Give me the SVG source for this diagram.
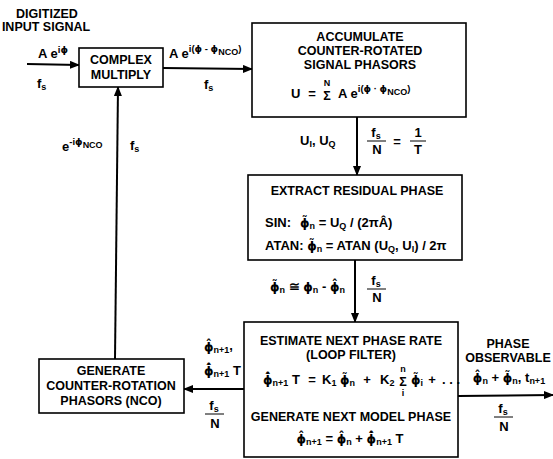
<svg xmlns="http://www.w3.org/2000/svg" width="553" height="459" viewBox="0 0 553 459">
<defs>
<marker id="ah" markerWidth="10" markerHeight="8" refX="9" refY="4" orient="auto" markerUnits="userSpaceOnUse">
<path d="M0,0 L10,4 L0,8 Z" fill="#000"/>
</marker>
</defs>
<style>
text{font-family:"Liberation Sans",Arial,sans-serif;font-weight:bold;font-size:12.5px;fill:#000}
.m{text-anchor:middle}
.f{font-size:13px}
.g{font-family:"DejaVu Sans","Liberation Sans",sans-serif;font-size:12px}
.s{font-size:9px}
.sup{font-size:9.5px}
.box{fill:#fff;stroke:#000;stroke-width:1.6}
.ln{fill:none;stroke:#000;stroke-width:2}
.fr{stroke:#000;stroke-width:1}
</style>
<rect width="553" height="459" fill="#fff"/>

<g id="connectors">
<line class="ln" x1="27" y1="64" x2="79" y2="65" marker-end="url(#ah)"/>
<line class="ln" x1="163" y1="68" x2="252" y2="69" marker-end="url(#ah)"/>
<line class="ln" x1="357" y1="117" x2="357" y2="175" marker-end="url(#ah)"/>
<line class="ln" x1="355" y1="260" x2="355" y2="322" marker-end="url(#ah)"/>
<line class="ln" x1="244" y1="389" x2="184" y2="389" marker-end="url(#ah)"/>
<line class="ln" x1="458" y1="396" x2="553" y2="395" marker-end="url(#ah)"/>
<line class="ln" x1="115" y1="359" x2="118" y2="87" marker-end="url(#ah)"/>
</g>

<g id="labels">
<text x="47" y="18" class="m">DIGITIZED</text>
<text x="46" y="31" class="m">INPUT SIGNAL</text>
<text x="38" y="58" class="f">A e<tspan class="sup" dy="-5">i</tspan><tspan class="g sup">ϕ</tspan></text>
<text x="37" y="88" class="f">f<tspan class="s" dy="2">s</tspan></text>
<text x="169" y="58" class="f">A e<tspan class="sup" dy="-6">i(</tspan><tspan class="g sup">ϕ</tspan><tspan class="sup"> - </tspan><tspan class="g sup">ϕ</tspan><tspan class="s" dy="3">NCO</tspan><tspan class="sup" dy="-3">)</tspan></text>
<text x="204" y="89" class="f">f<tspan class="s" dy="2">s</tspan></text>

<text x="300" y="145" class="f">U<tspan class="s" dy="2">I</tspan><tspan dy="-2">, U</tspan><tspan class="s" dy="2">Q</tspan></text>
<text x="376" y="137" class="m f">f<tspan class="s" dy="2">s</tspan></text>
<line class="fr" x1="367" y1="141" x2="386" y2="141"/>
<text x="377" y="154" class="m f">N</text>
<text x="397" y="146" class="m f">=</text>
<text x="418" y="137" class="m f">1</text>
<line class="fr" x1="410" y1="141" x2="426" y2="141"/>
<text x="418" y="154" class="m f">T</text>

<text x="270" y="291" class="f"><tspan class="g">ϕ̃</tspan><tspan class="s" dy="2">n</tspan><tspan dy="-2"> ≅ </tspan><tspan class="g">ϕ</tspan><tspan class="s" dy="2">n</tspan><tspan dy="-2"> - </tspan><tspan class="g">ϕ̂</tspan><tspan class="s" dy="2">n</tspan></text>
<text x="376" y="285" class="m f">f<tspan class="s" dy="2">s</tspan></text>
<line class="fr" x1="367" y1="289" x2="386" y2="289"/>
<text x="377" y="302" class="m f">N</text>

<text x="62" y="151" class="f">e<tspan class="sup" dy="-6">-i</tspan><tspan class="g sup">ϕ</tspan><tspan class="s" dy="3">NCO</tspan></text>
<text x="130" y="150" class="f">f<tspan class="s" dy="2">s</tspan></text>

<text x="204" y="351" class="f"><tspan class="g">ϕ̂</tspan><tspan class="s" dy="2">n+1</tspan><tspan dy="-3">,</tspan></text>
<text x="204" y="375" class="f"><tspan class="g">ϕ̂̇</tspan><tspan class="s" dy="2">n+1</tspan><tspan dy="-2"> T</tspan></text>
<text x="214" y="410" class="m f">f<tspan class="s" dy="2">s</tspan></text>
<line class="fr" x1="205" y1="414" x2="224" y2="414"/>
<text x="215" y="428" class="m f">N</text>

<text x="508" y="348" class="m">PHASE</text>
<text x="508" y="362" class="m">OBSERVABLE</text>
<text x="509" y="382" class="m f"><tspan class="g">ϕ̂</tspan><tspan class="s" dy="2">n</tspan><tspan dy="-2"> + </tspan><tspan class="g">ϕ̃</tspan><tspan class="s" dy="2">n</tspan><tspan dy="-2">, t</tspan><tspan class="s" dy="2">n+1</tspan></text>
<text x="503" y="413" class="m f">f<tspan class="s" dy="2">s</tspan></text>
<line class="fr" x1="494" y1="417" x2="513" y2="417"/>
<text x="504" y="431" class="m f">N</text>
</g>

<g id="complex-multiply">
<rect class="box" x="79" y="48" width="84" height="39"/>
<text x="121" y="64" class="m">COMPLEX</text>
<text x="121" y="79" class="m">MULTIPLY</text>
</g>

<g id="accumulate">
<rect class="box" x="252" y="23" width="214" height="94"/>
<text x="360" y="41" class="m">ACCUMULATE</text>
<text x="360" y="55" class="m">COUNTER-ROTATED</text>
<text x="360" y="69" class="m">SIGNAL PHASORS</text>
<text x="291" y="98" class="f">U</text>
<text x="312" y="98" class="f m">=</text>
<text x="327" y="100" class="m" font-size="16">Σ</text>
<text x="327" y="86" class="m s">N</text>
<text x="338" y="98" class="f">A e<tspan class="sup" dy="-6">i(</tspan><tspan class="g sup">ϕ</tspan><tspan class="sup"> · </tspan><tspan class="g sup">ϕ</tspan><tspan class="s" dy="3">NCO</tspan><tspan class="sup" dy="-3">)</tspan></text>
</g>

<g id="extract">
<rect class="box" x="248" y="175" width="214" height="85"/>
<text x="357" y="195" class="m">EXTRACT RESIDUAL PHASE</text>
<text x="265" y="227" class="f">SIN:</text>
<text x="300" y="227" class="f"><tspan class="g">ϕ̃</tspan><tspan class="s" dy="2">n</tspan><tspan dy="-2"> = U</tspan><tspan class="s" dy="2">Q</tspan><tspan dy="-2"> / (2πÂ)</tspan></text>
<text x="265" y="250" class="f">ATAN: <tspan class="g">ϕ̃</tspan><tspan class="s" dy="2">n</tspan><tspan dy="-2"> =  ATAN (U</tspan><tspan class="s" dy="2">Q</tspan><tspan dy="-2">, U</tspan><tspan class="s" dy="2">I</tspan><tspan dy="-2">) / 2π</tspan></text>
</g>

<g id="estimate">
<rect class="box" x="244" y="322" width="214" height="135"/>
<text x="351" y="345" class="m">ESTIMATE NEXT PHASE RATE</text>
<text x="351" y="359" class="m">(LOOP FILTER)</text>
<text x="263" y="384" class="f"><tspan class="g">ϕ̂̇</tspan><tspan class="s" dy="2">n+1</tspan><tspan dy="-2"> T</tspan></text>
<text x="312" y="384" class="f m">=</text>
<text x="322" y="384" class="f">K<tspan class="s" dy="2">1</tspan></text>
<text x="340" y="384" class="f"><tspan class="g">ϕ̃</tspan><tspan class="s" dy="2">n</tspan></text>
<text x="367" y="384" class="f m">+</text>
<text x="380" y="384" class="f">K<tspan class="s" dy="2">2</tspan></text>
<text x="403" y="386" class="m" font-size="16">Σ</text>
<text x="403" y="372" class="m s">n</text>
<text x="403" y="396" class="m s">i</text>
<text x="411" y="384" class="f"><tspan class="g">ϕ̃</tspan><tspan class="s" dy="2">i</tspan></text>
<text x="432" y="384" class="f m">+</text>
<text x="442" y="384" class="f">. . .</text>
<text x="351" y="421" class="m">GENERATE NEXT MODEL PHASE</text>
<text x="350" y="443" class="m f"><tspan class="g">ϕ̂</tspan><tspan class="s" dy="2">n+1</tspan><tspan dy="-2">  =  </tspan><tspan class="g">ϕ̂</tspan><tspan class="s" dy="2">n</tspan><tspan dy="-2"> + </tspan><tspan class="g">ϕ̂̇</tspan><tspan class="s" dy="2">n+1</tspan><tspan dy="-2"> T</tspan></text>
</g>

<g id="nco">
<rect class="box" x="39" y="359" width="145" height="54"/>
<text x="111" y="375" class="m">GENERATE</text>
<text x="111" y="390" class="m">COUNTER-ROTATION</text>
<text x="111" y="405" class="m">PHASORS (NCO)</text>
</g>
</svg>
